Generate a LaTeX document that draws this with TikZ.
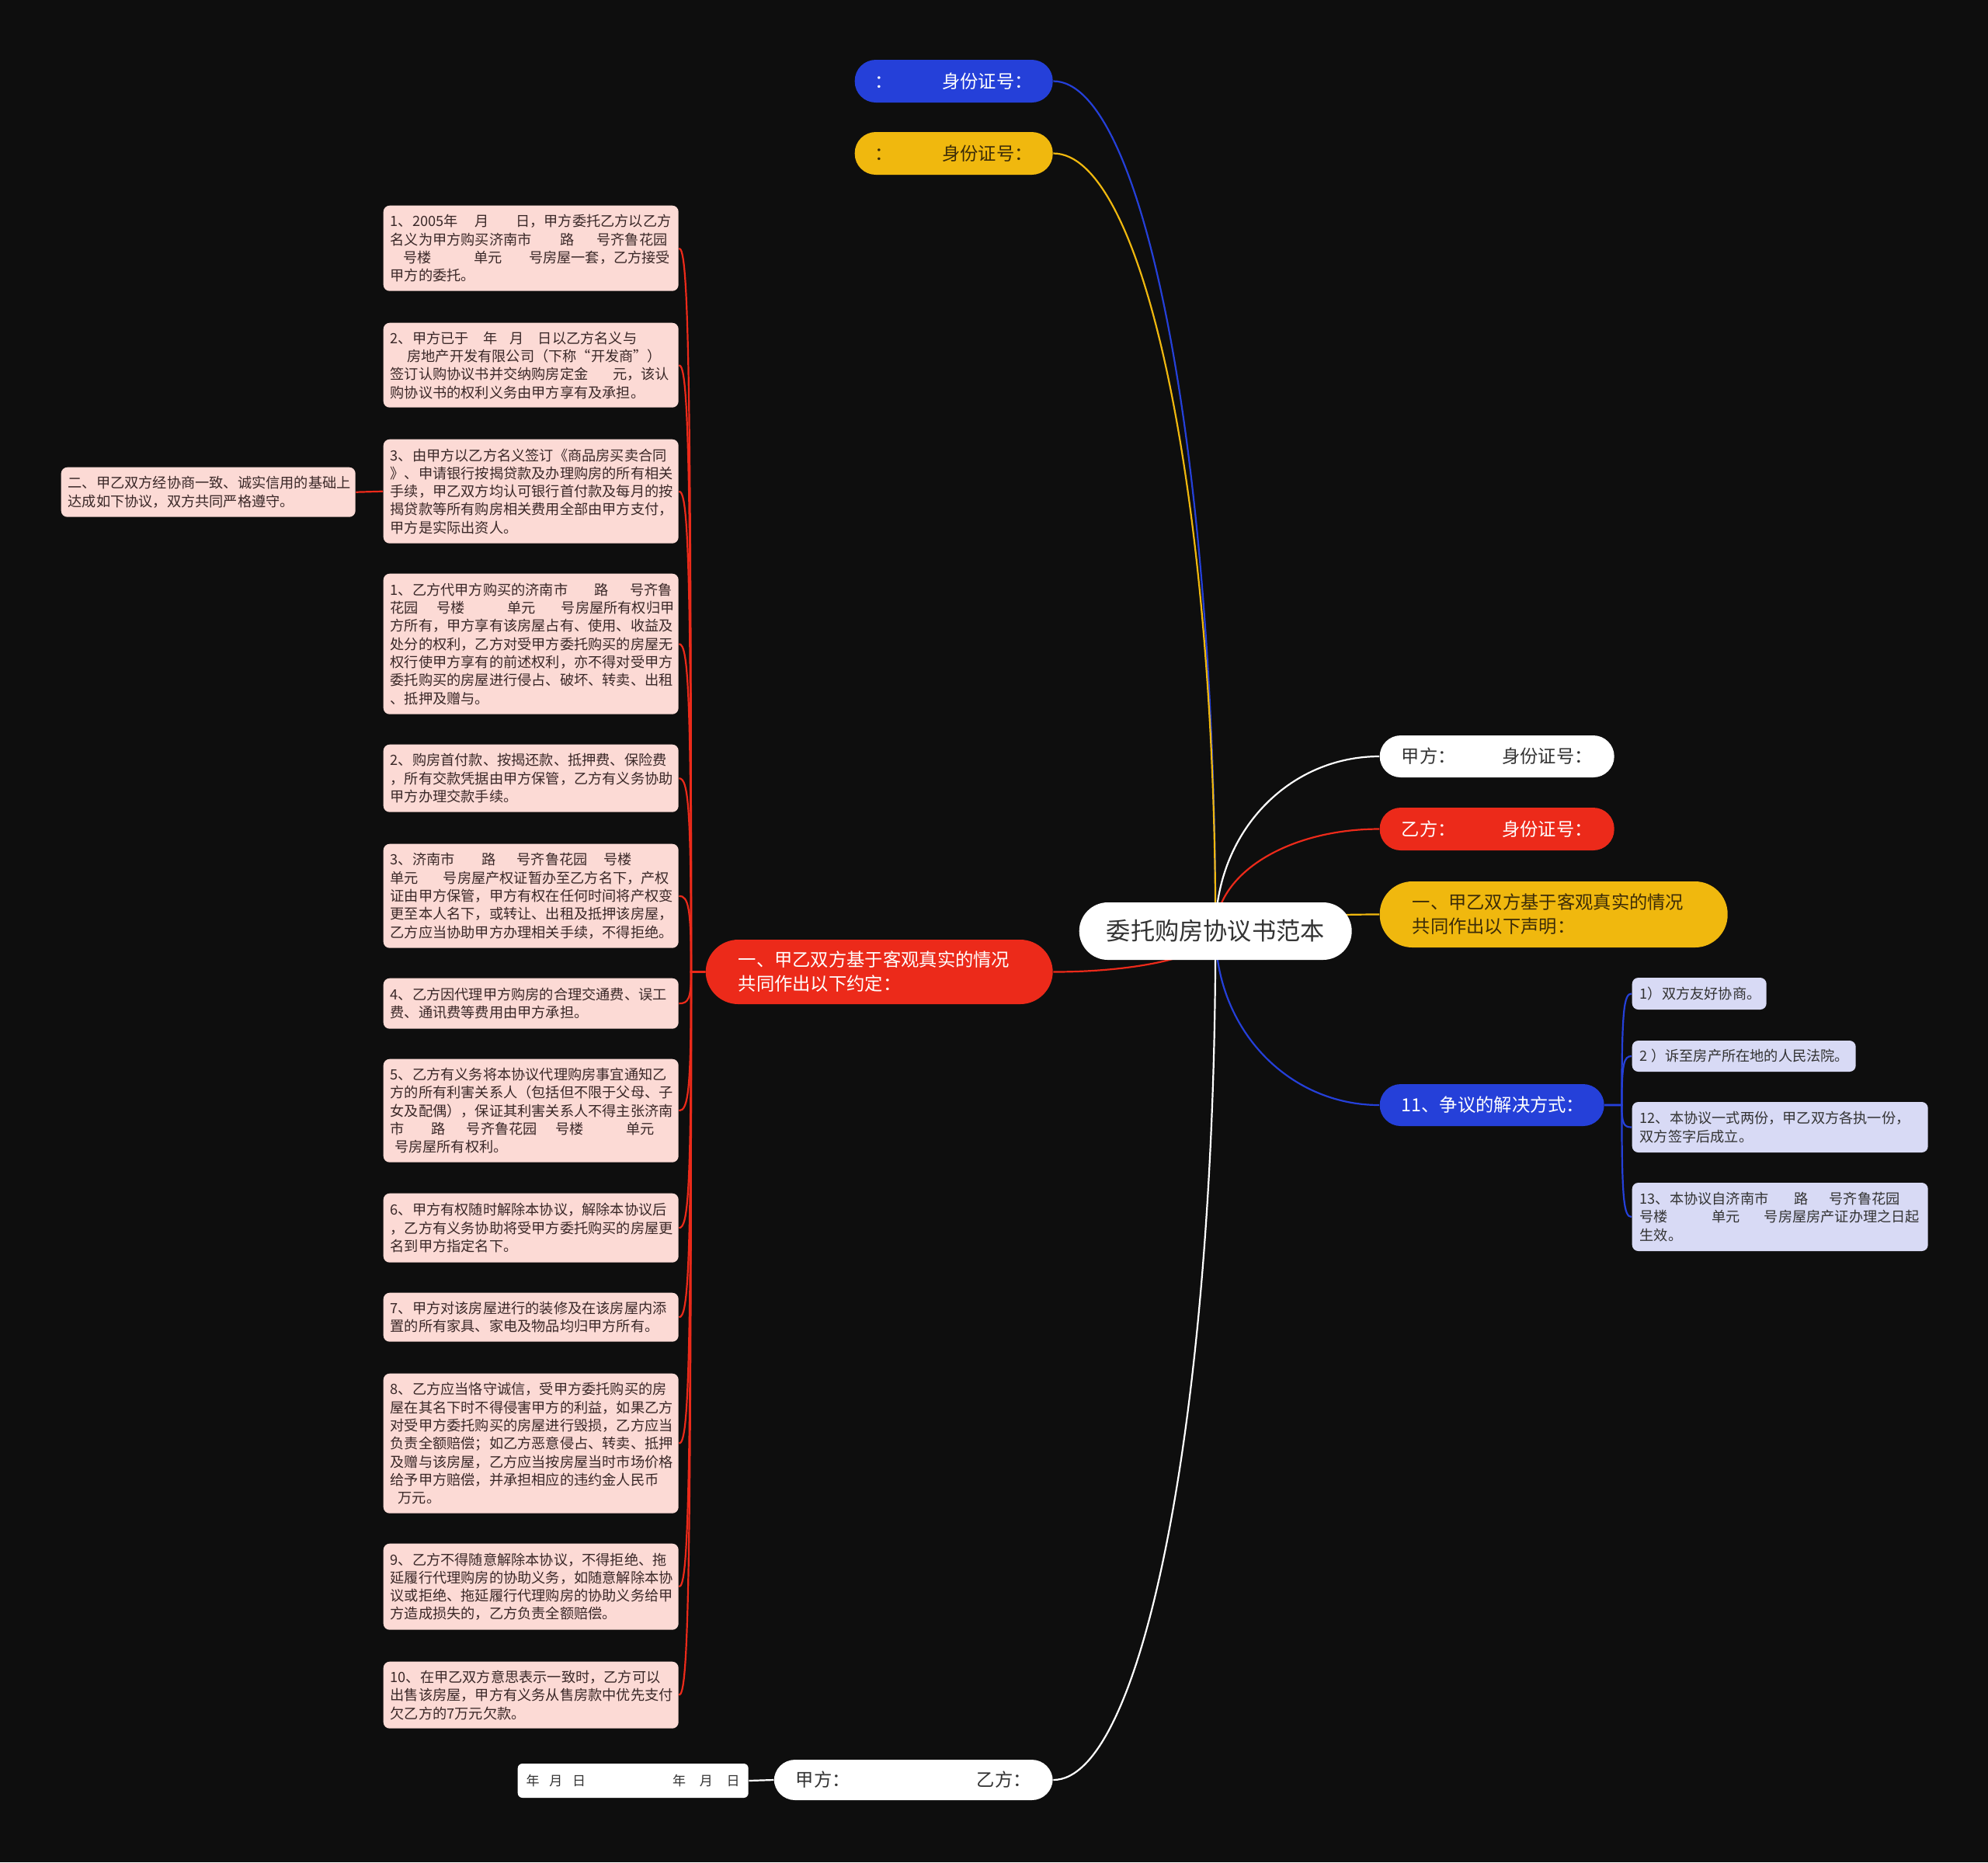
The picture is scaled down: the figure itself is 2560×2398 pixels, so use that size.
\documentclass[tikz,border=0pt]{standalone}
\usepackage{fontspec}
\newfontfamily\cjk{Noto Sans CJK SC}
\usetikzlibrary{backgrounds,calc}
\definecolor{bgc}{RGB}{14,14,14}
\definecolor{mapblue}{RGB}{37,64,217}
\definecolor{mapyellow}{RGB}{240,184,14}
\definecolor{mapred}{RGB}{236,42,26}
\definecolor{pinkc}{RGB}{252,218,213}
\definecolor{lavc}{RGB}{216,218,245}
\definecolor{darktext}{RGB}{51,51,51}
\definecolor{pinktext}{RGB}{58,40,40}
\definecolor{yeltext}{RGB}{60,44,8}
\newcommand\smallfs{\fontsize{1.82mm}{2.33mm}\selectfont}
\newcommand\midfs{\fontsize{2.33mm}{3.1mm}\selectfont}
\newcommand\rootfs{\fontsize{3.12mm}{3.8mm}\selectfont}
\newcommand\datefs{\fontsize{1.7mm}{2mm}\selectfont}
\newcommand\gap[1]{\nobreak\hspace{#1}\nobreak}
\begin{document}
\begin{tikzpicture}[x=0.1mm,y=-0.1mm,
  pill/.style={anchor=west,rounded corners=2.7mm,minimum height=5.4mm,inner xsep=2.8mm,inner ysep=0pt,align=left,font=\cjk\midfs},
  bigpill/.style={pill,rounded corners=4.2mm,inner xsep=4.2mm,text width=36.4mm},
  pinkbox/.style={anchor=north west,fill=pinkc,text=pinktext,rounded corners=0.8mm,inner xsep=0.9mm,inner ysep=0pt,text width=36.2mm,align=left,font=\cjk\smallfs},
  lavbox/.style={anchor=west,fill=lavc,text=darktext,rounded corners=0.8mm,inner xsep=1mm,inner ysep=0pt,align=left,font=\cjk\smallfs},
  conn/.style={line width=0.22mm}]
\useasboundingbox (0,0) rectangle (2560,2398);
% centre and main branches
\node[pill,fill=white,text=darktext,rounded corners=3.7mm,minimum height=7.4mm,inner xsep=3.5mm,text width=28.1mm,align=center,font=\cjk\rootfs] (root) at (1389,1199) {委托购房协议书范本};
\node[pill,fill=mapblue,text=white,minimum height=5.5mm,inner xsep=2.6mm,text width=20.3mm] (idblue) at (1100,104.5) {：\hfill 身份证号：};
\node[pill,fill=mapyellow,text=yeltext,minimum height=5.5mm,inner xsep=2.6mm,text width=20.3mm] (idyellow) at (1100,197.5) {：\hfill 身份证号：};
\node[pill,fill=white,text=darktext,text width=24.6mm] (jia) at (1776,974) {甲方：\hfill 身份证号：};
\node[pill,fill=mapred,text=white,minimum height=5.5mm,text width=24.6mm] (yi) at (1776,1067.5) {乙方：\hfill 身份证号：};
\node[bigpill,fill=mapyellow,text=yeltext,minimum height=8.5mm] (shengming) at (1776,1177.5) {一、甲乙双方基于客观真实的情况\\共同作出以下声明：};
\node[pill,fill=mapblue,text=white,text width=23.3mm] (zhengyi) at (1776,1423) {11、争议的解决方式：};
\node[bigpill,fill=mapred,text=white,minimum height=8.3mm,text width=36.3mm] (yueding) at (908,1251.5) {一、甲乙双方基于客观真实的情况\\共同作出以下约定：};
\node[pill,fill=white,text=darktext,minimum height=5.2mm,text width=30.3mm] (qianzi) at (996,2292) {甲方：\hfill 乙方：};
\node[pill,fill=white,text=darktext,rounded corners=0.6mm,minimum height=4.4mm,inner xsep=1.1mm,text width=27.5mm,font=\cjk\datefs] (riqi) at (666,2293) {年\gap{0.75em}月\gap{0.75em}日\hfill 年\gap{1.05em}月\gap{1.05em}日};
% left boxes
\foreach \nm/\by/\bh/\bt in {
 p1/264/11.0mm/{1、2005年\gap{1.2em}月\gap{1.9em}日，甲方委托乙方以乙方\\名义为甲方购买济南市\gap{2em}路\gap{1.6em}号齐鲁花园\\\hspace*{0.9em}号楼\gap{3em}单元\gap{1.9em}号房屋一套，乙方接受\\甲方的委托。},
 p2/415/10.9mm/{2、甲方已于\gap{1em}年\gap{0.9em}月\gap{1em}日以乙方名义与\\\hspace*{1.2em}房地产开发有限公司（下称“开发商”）\\签订认购协议书并交纳购房定金\gap{1.75em}元，该认\\购协议书的权利义务由甲方享有及承担。},
 p3/565/13.4mm/{3、由甲方以乙方名义签订《商品房买卖合同\\》、申请银行按揭贷款及办理购房的所有相关\\手续，甲乙双方均认可银行首付款及每月的按\\揭贷款等所有购房相关费用全部由甲方支付，\\甲方是实际出资人。},
 q1/738/18.1mm/{1、乙方代甲方购买的济南市\gap{1.9em}路\gap{1.5em}号齐鲁\\花园\gap{1.3em}号楼\gap{3em}单元\gap{1.8em}号房屋所有权归甲\\方所有，甲方享有该房屋占有、使用、收益及\\处分的权利，乙方对受甲方委托购买的房屋无\\权行使甲方享有的前述权利，亦不得对受甲方\\委托购买的房屋进行侵占、破坏、转卖、出租\\、抵押及赠与。},
 q2/958/8.7mm/{2、购房首付款、按揭还款、抵押费、保险费\\，所有交款凭据由甲方保管，乙方有义务协助\\甲方办理交款手续。},
 q3/1086/13.4mm/{3、济南市\gap{1.9em}路\gap{1.5em}号齐鲁花园\gap{1.15em}号楼\\单元\gap{1.75em}号房屋产权证暂办至乙方名下，产权\\证由甲方保管，甲方有权在任何时间将产权变\\更至本人名下，或转让、出租及抵押该房屋，\\乙方应当协助甲方办理相关手续，不得拒绝。},
 q4/1259/6.5mm/{4、乙方因代理甲方购房的合理交通费、误工\\费、通讯费等费用由甲方承担。},
 q5/1363/13.3mm/{5、乙方有义务将本协议代理购房事宜通知乙\\方的所有利害关系人（包括但不限于父母、子\\女及配偶），保证其利害关系人不得主张济南\\市\gap{1.9em}路\gap{1.5em}号齐鲁花园\gap{1.3em}号楼\gap{3em}单元\\\hspace*{0.3em}号房屋所有权利。},
 q6/1536/8.9mm/{6、甲方有权随时解除本协议，解除本协议后\\，乙方有义务协助将受甲方委托购买的房屋更\\名到甲方指定名下。},
 q7/1664/6.3mm/{7、甲方对该房屋进行的装修及在该房屋内添\\置的所有家具、家电及物品均归甲方所有。},
 q8/1768/18.0mm/{8、乙方应当恪守诚信，受甲方委托购买的房\\屋在其名下时不得侵害甲方的利益，如果乙方\\对受甲方委托购买的房屋进行毁损，乙方应当\\负责全额赔偿；如乙方恶意侵占、转卖、抵押\\及赠与该房屋，乙方应当按房屋当时市场价格\\给予甲方赔偿，并承担相应的违约金人民币\\\hspace*{0.55em}万元。},
 q9/1987/11.1mm/{9、乙方不得随意解除本协议，不得拒绝、拖\\延履行代理购房的协助义务，如随意解除本协\\议或拒绝、拖延履行代理购房的协助义务给甲\\方造成损失的，乙方负责全额赔偿。},
 q10/2139/8.6mm/{10、在甲乙双方意思表示一致时，乙方可以\\出售该房屋，甲方有义务从售房款中优先支付\\欠乙方的7万元欠款。}}
  \node[pinkbox,minimum height=\bh] (\nm) at (493,\by) {\bt};
\node[pinkbox,minimum height=6.4mm,text width=36.1mm] (er) at (78,601) {二、甲乙双方经协商一致、诚实信用的基础上\\达成如下协议，双方共同严格遵守。};
% right boxes
\foreach \nm/\by/\bw/\bh/\bt in {
 s1/1279.5/15.3mm/4.1mm/{1）双方友好协商。},
 s2/1360/26.8mm/4.0mm/{2\gap{0.25em}）诉至房产所在地的人民法院。},
 s12/1451.5/36.1mm/6.5mm/{12、本协议一式两份，甲乙双方各执一份，\\双方签字后成立。},
 s13/1567/36.1mm/8.8mm/{13、本协议自济南市\gap{1.8em}路\gap{1.5em}号齐鲁花园\\号楼\gap{3.1em}单元\gap{1.7em}号房屋房产证办理之日起\\生效。}}
  \node[lavbox,text width=\bw,minimum height=\bh] (\nm) at (2101,\by) {\bt};
\coordinate (redbus) at ($(yueding.west)+(-18,0)$);
\coordinate (bluebus) at ($(zhengyi.east)+(22,0)$);
\begin{scope}[on background layer]
\fill[bgc] (0,0) rectangle (2560,2398);
\foreach \nm/\anc/\cl in {idblue/east/mapblue,idyellow/east/mapyellow,yueding/east/mapred,qianzi/east/white,jia/west/white,yi/west/mapred,shengming/west/mapyellow,zhengyi/west/mapblue}
  \draw[conn,\cl] (root.center) .. controls ($(root.center)!0.57!(root.center |- \nm.\anc)$) and ($(\nm.\anc)!0.55!(root.center |- \nm.\anc)$) .. (\nm.\anc);
\foreach \nm in {p1,p2,p3,q1,q2,q3,q4,q5,q6,q7,q8,q9,q10}
  \draw[conn,mapred] (yueding.west) -- (redbus) .. controls ($(redbus)!0.85!(redbus |- \nm.east)$) and +(12,0) .. (\nm.east);
\draw[conn,mapred] (p3.west) -- (er.east);
\draw[conn,white] (qianzi.west) -- (riqi.east);
\foreach \nm in {s1,s2,s12,s13}
  \draw[conn,mapblue] (zhengyi.east) -- (bluebus) .. controls ($(bluebus)!0.85!(bluebus |- \nm.west)$) and +(-10,0) .. (\nm.west);
\end{scope}
\end{tikzpicture}
\end{document}
